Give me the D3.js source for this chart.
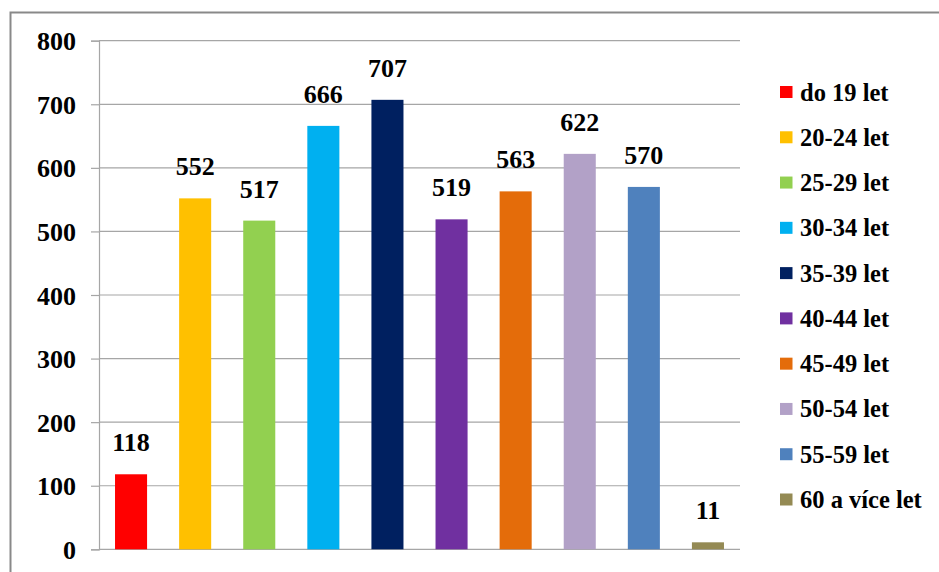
<!DOCTYPE html>
<html><head><meta charset="utf-8">
<script src="https://cdn.jsdelivr.net/npm/d3@7"></script>
<style>body{margin:0;background:#fff}svg{display:block}</style>
</head><body><svg id="c" width="939" height="572"></svg>
<script>
const categories = ["do 19 let","20-24let","25-29let","30-34let","35-39let","40-44let","45-49let","50-54let","55-59let","60 a více let"];
const legendLabels = ["do 19 let","20-24 let","25-29 let","30-34 let","35-39 let","40-44 let","45-49 let","50-54 let","55-59 let","60 a více let"];
const values = [118,552,517,666,707,519,563,622,570,11];
const colors = ["#ff0000","#ffc000","#92d050","#00b0f0","#002060","#7030a0","#e46c0a","#b2a1c7","#4f81bd","#948a54"];
const yTicks = [0,100,200,300,400,500,600,700,800];

const FONT = "'Liberation Serif', 'Times New Roman', serif";
const svg = d3.select("#c");
svg.append("rect").attr("x",10.5).attr("y",12.5).attr("width",940).attr("height",600)
  .attr("fill","none").attr("stroke","#898989").attr("stroke-width",2);

const L=99, R=740, T=40.7, B=549.3;
const x = d3.scaleBand().domain(categories).range([L,R]).paddingInner(0.5).paddingOuter(0.25);
const y = d3.scaleLinear().domain([0,800]).range([B,T]);

const g = svg.append("g");
g.selectAll("line.grid").data(yTicks).join("line").attr("class","grid")
  .attr("x1",L).attr("x2",R).attr("y1",d=>y(d)).attr("y2",d=>y(d))
  .attr("stroke","#a6a6a6").attr("stroke-width",1.2);

const yAxis = g.append("g").attr("transform",`translate(${L},0)`)
  .call(d3.axisLeft(y).tickValues(yTicks).tickSize(8).tickPadding(15).tickFormat(d3.format("d")));
yAxis.select(".domain").attr("stroke","#a6a6a6").attr("stroke-width",1.2);
yAxis.selectAll(".tick line").attr("stroke","#a6a6a6").attr("stroke-width",1.2);
yAxis.selectAll(".tick text").style("font-size","26px").attr("dy","0.35em");

const g2 = svg.append("g");
g2.selectAll("rect.bar").data(values).join("rect").attr("class","bar")
  .attr("x",(d,i)=>x(categories[i])).attr("width",x.bandwidth())
  .attr("y",d=>y(d)).attr("height",d=>B-y(d)).attr("fill",(d,i)=>colors[i]);

g2.selectAll("text.val").data(values).join("text").attr("class","val")
  .attr("x",(d,i)=>x(categories[i])+x.bandwidth()/2).attr("y",d=>y(d)-23)
  .attr("text-anchor","middle").style("font-size","26px").text(d=>d);

const leg = svg.append("g");
const ly = d3.scaleLinear().domain([0,9]).range([92,499.5]);
legendLabels.forEach((t,i)=>{
  leg.append("rect").attr("x",780).attr("y",ly(i)-6).attr("width",12.5).attr("height",12).attr("fill",colors[i]);
  leg.append("text").attr("x",800).attr("y",ly(i)+8.5).style("font-size","24.5px").text(t);
});

svg.selectAll("text").style("font-family",FONT).style("font-weight","bold").style("fill","#000");
</script></body></html>
